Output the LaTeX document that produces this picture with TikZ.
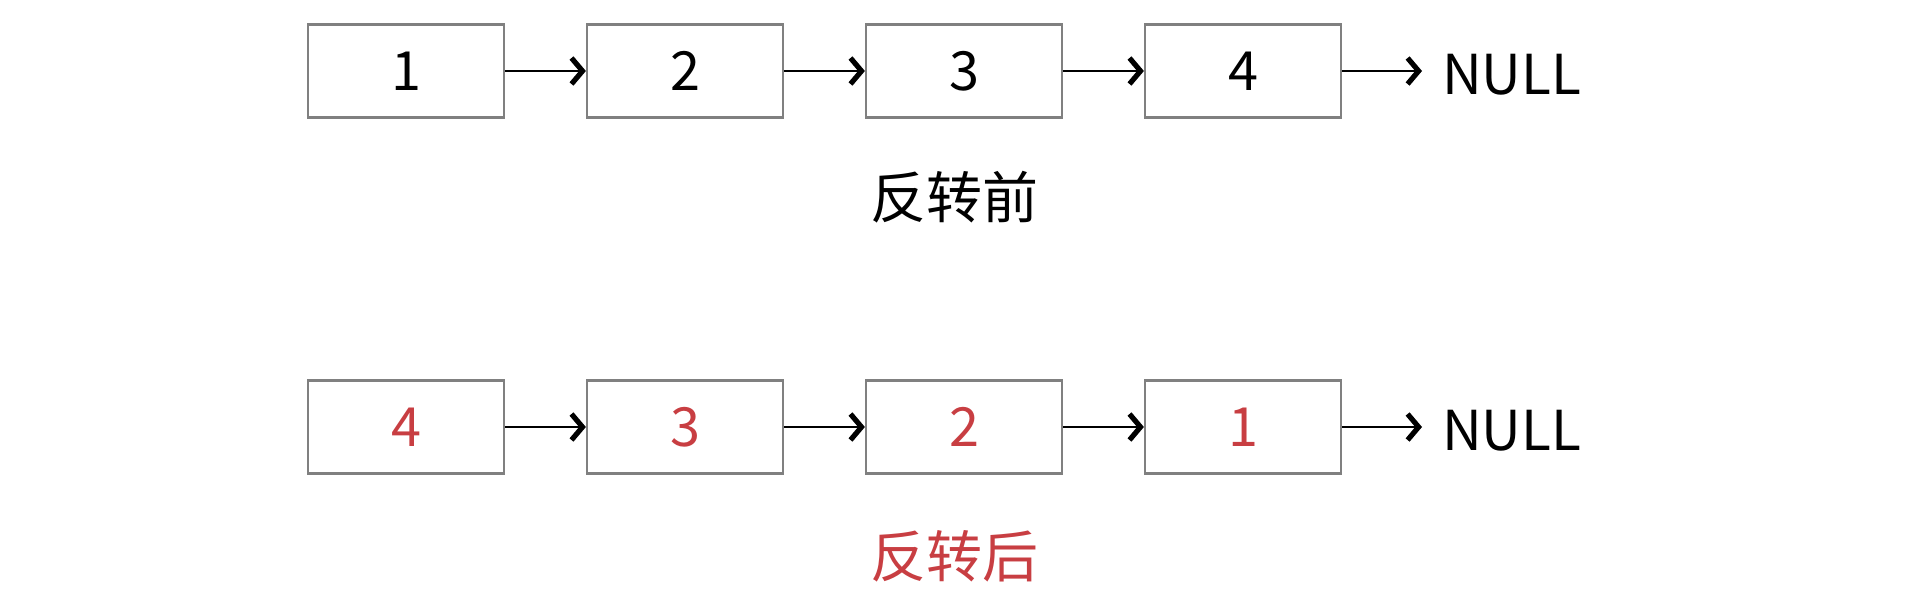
\documentclass[tikz,border=0pt]{standalone}
\usepackage{fontspec}
\setmainfont{Noto Sans CJK SC}
\usetikzlibrary{arrows.meta}
\definecolor{boxgray}{RGB}{128,128,128}
\definecolor{revred}{RGB}{200,62,66}
\tikzset{
  listbox/.style={draw=boxgray, line width=2.2pt, minimum width=196pt, minimum height=93pt, inner sep=0pt, font=\fontsize{54}{60}\selectfont},
  link/.style={line width=2.6pt, -{Straight Barb[length=11pt,width=26pt,line width=5.2pt]}},
  nulltext/.style={font=\fontsize{55}{60}\selectfont, anchor=west, inner sep=0pt},
  caption/.style={font=\fontsize{56}{62}\selectfont}
}
\begin{document}
\begin{tikzpicture}[x=1pt,y=-1pt]
\useasboundingbox (0,0) rectangle (1911,595);
% top row
\node[listbox] (a1) at (406,71) {1};
\node[listbox] (a2) at (685,71) {2};
\node[listbox] (a3) at (964,71) {3};
\node[listbox] (a4) at (1243,71) {4};
\node[nulltext] (an) at (1442,75) {NULL};
\draw[link] (a1) -- (a2);
\draw[link] (a2) -- (a3);
\draw[link] (a3) -- (a4);
\draw[link, shorten >=20pt] (a4.east) -- (a4.east -| an.west);
\node[caption] (ca) at (954,197) {反转前};
% bottom row
\node[listbox, text=revred] (b1) at (406,427) {4};
\node[listbox, text=revred] (b2) at (685,427) {3};
\node[listbox, text=revred] (b3) at (964,427) {2};
\node[listbox, text=revred] (b4) at (1243,427) {1};
\node[nulltext] (bn) at (1442,431) {NULL};
\draw[link] (b1) -- (b2);
\draw[link] (b2) -- (b3);
\draw[link] (b3) -- (b4);
\draw[link, shorten >=20pt] (b4.east) -- (b4.east -| bn.west);
\node[caption, text=revred] (cb) at (954,556) {反转后};
\end{tikzpicture}
\end{document}
